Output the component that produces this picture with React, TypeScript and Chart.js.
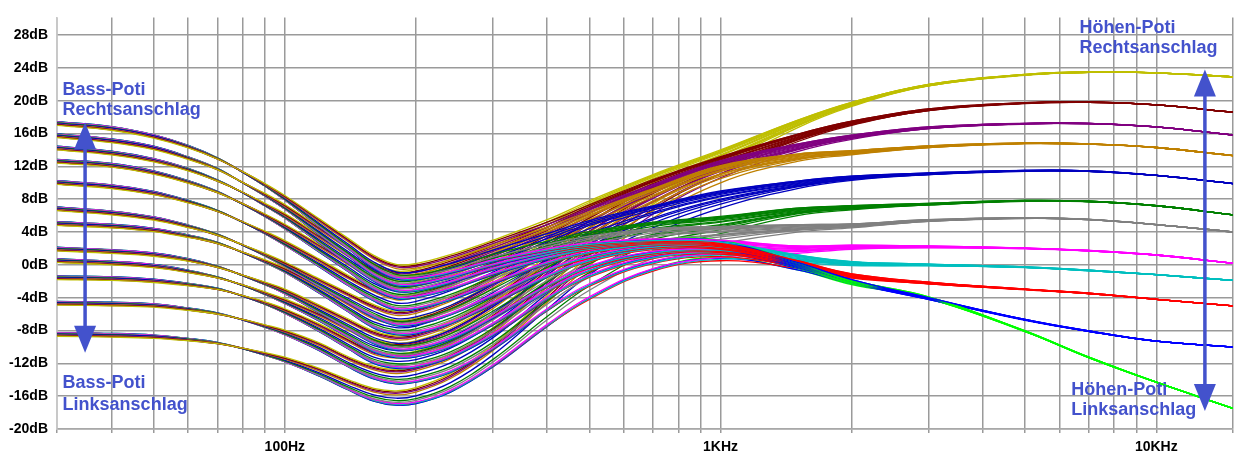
import React, { useEffect, useRef } from 'react';
import { Chart, registerables } from 'chart.js';

Chart.register(...registerables);

// Frequency points (Hz) at which the curves were read
const FREQS = [30, 40, 50, 60, 70, 80, 90, 100, 120, 140, 160, 180, 200, 240, 300, 400, 500, 700, 1000, 1500, 2000, 3000, 5000, 7000, 10000, 15000];

// Bass-pot positions (dB), from Rechtsanschlag (max) to Linksanschlag (min)
const BASS_01 = [17.4, 16.8, 15.8, 14.5, 13.0, 11.3, 9.6, 7.9, 4.7, 2.0, -0.3, -1.6, -1.7, -0.9, 0.5, 1.9, 2.8, 3.6, 3.8, 2.3, 1.2, 0.5, 0.15, 0.05, 0, 0];
const BASS_02 = [15.9, 15.3, 14.4, 13.1, 11.7, 10.0, 8.4, 6.8, 3.7, 1.1, -1.2, -2.4, -2.4, -1.5, 0.0, 1.6, 2.6, 3.5, 3.7, 2.3, 1.2, 0.5, 0.15, 0.05, 0, 0];
const BASS_03 = [14.4, 13.8, 12.9, 11.7, 10.3, 8.8, 7.2, 5.7, 2.7, 0.2, -1.9, -3.1, -3.1, -2.1, -0.5, 1.3, 2.4, 3.4, 3.6, 2.2, 1.15, 0.45, 0.15, 0.05, 0, 0];
const BASS_04 = [12.8, 12.3, 11.4, 10.2, 8.9, 7.4, 5.9, 4.4, 1.6, -0.8, -2.9, -4.0, -3.9, -2.9, -1.1, 0.9, 2.2, 3.3, 3.5, 2.2, 1.1, 0.45, 0.1, 0.05, 0, 0];
const BASS_05 = [10.2, 9.7, 8.9, 7.8, 6.6, 5.2, 3.8, 2.4, -0.2, -2.5, -4.3, -5.4, -5.3, -4.2, -2.2, 0.3, 1.8, 3.1, 3.4, 2.1, 1.1, 0.4, 0.1, 0.05, 0, 0];
const BASS_06 = [7.0, 6.5, 5.8, 4.8, 3.7, 2.4, 1.1, -0.2, -2.6, -4.6, -6.3, -7.3, -7.2, -6.0, -3.7, -0.6, 1.2, 2.8, 3.2, 2.0, 1.0, 0.4, 0.1, 0, 0, 0];
const BASS_07 = [5.2, 4.9, 4.4, 3.6, 2.7, 1.5, 0.3, -0.9, -3.4, -5.7, -7.6, -8.4, -8.3, -7.1, -4.7, -1.3, 0.8, 2.6, 3.1, 1.9, 1.0, 0.4, 0.1, 0, 0, 0];
const BASS_08 = [2.1, 1.8, 1.4, 0.7, -0.2, -1.3, -2.4, -3.5, -5.8, -7.8, -9.5, -10.3, -10.2, -9.0, -6.4, -2.5, 0.0, 2.1, 2.8, 1.8, 0.9, 0.35, 0.1, 0, 0, 0];
const BASS_09 = [0.7, 0.4, 0.0, -0.7, -1.5, -2.5, -3.6, -4.7, -6.8, -8.8, -10.5, -11.2, -11.1, -9.9, -7.2, -3.1, -0.4, 1.9, 2.7, 1.7, 0.9, 0.35, 0.1, 0, 0, 0];
const BASS_10 = [-1.4, -1.5, -1.8, -2.3, -2.9, -3.8, -4.8, -5.9, -8.1, -10.2, -11.9, -12.5, -12.4, -11.2, -8.5, -4.0, -1.1, 1.5, 2.5, 1.7, 0.85, 0.3, 0.1, 0, 0, 0];
const BASS_11 = [-4.5, -4.6, -4.8, -5.3, -5.9, -6.7, -7.6, -8.5, -10.4, -12.4, -13.8, -14.4, -14.2, -13.0, -10.2, -5.4, -2.2, 0.9, 2.2, 1.6, 0.8, 0.3, 0.1, 0, 0, 0];
const BASS_12 = [-8.3, -8.4, -8.6, -9.0, -9.5, -10.2, -11.0, -11.8, -13.5, -15.2, -16.5, -17.0, -16.8, -15.4, -12.3, -7.3, -3.8, 0.0, 1.7, 1.4, 0.7, 0.3, 0.05, 0, 0, 0];

// Treble-pot contribution (dB), from Linksanschlag (min) to Rechtsanschlag (max)
const TREBLE_01 = [0.05, 0.05, 0.05, 0.05, 0.05, 0, 0, 0, -0.05, -0.05, -0.1, -0.1, -0.1, -0.1, -0.15, -0.2, -0.3, -0.5, -0.8, -2.0, -3.1, -4.4, -8.2, -11.3, -14.3, -17.5];
const TREBLE_02 = [0.05, 0.05, 0.05, 0.05, 0.05, 0, 0, 0, -0.05, -0.05, -0.1, -0.1, -0.1, -0.1, -0.15, -0.2, -0.3, -0.55, -0.9, -2.0, -3.0, -4.5, -6.8, -8.1, -9.3, -10.0];
const TREBLE_03 = [0, 0, 0, 0, 0, 0, 0, 0, 0, 0, 0, 0, 0, 0, -0.05, -0.15, -0.4, -0.75, -1.2, -1.8, -2.3, -2.6, -3.1, -3.5, -4.2, -5.0];
const TREBLE_04 = [0, 0, 0, 0, 0, 0, 0, 0, 0, 0, 0, 0, 0, 0, 0, -0.1, -0.3, -0.65, -1.0, -1.1, -0.8, -0.4, -0.4, -0.7, -1.2, -1.9];
const TREBLE_05 = [0, 0, 0, 0, 0, 0, 0, 0, 0.05, 0.05, 0.1, 0.1, 0.1, 0.1, 0.1, 0.05, -0.1, -0.45, -0.8, 0.0, 1.2, 1.8, 1.9, 1.7, 1.2, 0.2];
const TREBLE_06 = [-0.05, -0.05, -0.05, 0, 0, 0, 0, 0.05, 0.1, 0.15, 0.2, 0.25, 0.3, 0.35, 0.45, 0.6, 0.7, 0.8, 0.9, 2.6, 3.8, 5.0, 5.6, 5.5, 4.9, 4.0];
const TREBLE_07 = [-0.1, -0.1, -0.1, -0.05, 0, 0, 0.05, 0.1, 0.2, 0.3, 0.4, 0.45, 0.5, 0.6, 0.75, 1.0, 1.25, 1.6, 2.1, 4.6, 6.0, 7.0, 7.7, 7.7, 7.2, 6.1];
const TREBLE_08 = [-0.15, -0.15, -0.1, -0.1, -0.05, 0, 0.1, 0.2, 0.35, 0.5, 0.65, 0.75, 0.85, 1.05, 1.3, 1.9, 2.6, 3.6, 5.2, 7.9, 9.6, 10.7, 11.35, 11.4, 10.9, 9.9];
const TREBLE_09 = [-0.25, -0.25, -0.2, -0.15, -0.05, 0.05, 0.15, 0.3, 0.55, 0.8, 1.0, 1.15, 1.3, 1.55, 1.85, 2.7, 3.7, 5.7, 8.3, 11.2, 12.7, 14.0, 14.7, 14.7, 14.3, 13.3];
const TREBLE_10 = [-0.3, -0.3, -0.25, -0.2, -0.1, 0.05, 0.2, 0.4, 0.7, 0.95, 1.15, 1.35, 1.5, 1.75, 2.1, 3.0, 4.1, 6.2, 8.9, 12.4, 14.6, 16.3, 17.1, 17.2, 16.8, 15.8];
const TREBLE_11 = [-0.35, -0.35, -0.3, -0.2, -0.1, 0.05, 0.25, 0.45, 0.8, 1.05, 1.3, 1.5, 1.65, 1.95, 2.3, 3.3, 4.5, 6.8, 9.4, 13.6, 16.3, 18.5, 19.6, 19.8, 19.5, 18.6];
const TREBLE_12 = [-0.4, -0.4, -0.35, -0.25, -0.1, 0.05, 0.3, 0.55, 0.9, 1.2, 1.45, 1.65, 1.85, 2.15, 2.5, 3.6, 5.0, 7.4, 10.2, 15.3, 18.6, 21.5, 23.05, 23.45, 23.4, 22.9];

const BASS_LEVELS = [BASS_01, BASS_02, BASS_03, BASS_04, BASS_05, BASS_06, BASS_07, BASS_08, BASS_09, BASS_10, BASS_11, BASS_12];
const TREBLE_LEVELS = [TREBLE_01, TREBLE_02, TREBLE_03, TREBLE_04, TREBLE_05, TREBLE_06, TREBLE_07, TREBLE_08, TREBLE_09, TREBLE_10, TREBLE_11, TREBLE_12];

// Step colours (one per treble position)
const TREBLE_COLORS = ['#00FF00', '#0000FF', '#FF0000', '#00BFBF', '#FF00FF', '#808080', '#008000', '#0000BF', '#BF8000', '#800080', '#800000', '#BFBF00'];

// Axis ticks
const X_GRID = [30, 40, 50, 60, 70, 80, 90, 100, 200, 300, 400, 500, 600, 700, 800, 900, 1000, 2000, 3000, 4000, 5000, 6000, 7000, 8000, 9000, 10000, 15000];
const X_LABEL_VALUES = [100, 1000, 10000];
const X_LABEL_TEXTS = ['100Hz', '1KHz', '10KHz'];

// Annotations (anchored in data coordinates)
const NOTE_TEXTS = ['Bass-Poti', 'Rechtsanschlag', 'Bass-Poti', 'Linksanschlag', 'Höhen-Poti', 'Rechtsanschlag', 'Höhen-Poti', 'Linksanschlag'];
const NOTE_FREQS = [30.9, 30.9, 30.9, 30.9, 6664, 6664, 6380, 6380];
const NOTE_DB = [20.66, 18.2, -15.0, -17.65, 28.28, 25.85, -15.8, -18.3];
const ARROW_FREQS = [34.8, 12930];
const ARROW_TOP_DB = [17.35, 23.8];
const ARROW_BOTTOM_DB = [-10.7, -17.8];

const NOTE_COLOR = '#4352CC';
const FONT = 'Arial, "Liberation Sans", sans-serif';

const notesPlugin = {
  id: 'potiNotes',
  afterDatasetsDraw(chart: any) {
    const { ctx } = chart;
    const xs = chart.scales.x;
    const ys = chart.scales.y;
    ctx.save();
    ctx.fillStyle = NOTE_COLOR;
    ctx.strokeStyle = NOTE_COLOR;
    for (let i = 0; i < ARROW_FREQS.length; i++) {
      const px = xs.getPixelForValue(ARROW_FREQS[i]);
      const top = ys.getPixelForValue(ARROW_TOP_DB[i]);
      const bot = ys.getPixelForValue(ARROW_BOTTOM_DB[i]);
      ctx.lineWidth = 3.5;
      ctx.beginPath();
      ctx.moveTo(px, top + 20);
      ctx.lineTo(px, bot - 20);
      ctx.stroke();
      ctx.beginPath();
      ctx.moveTo(px, top);
      ctx.lineTo(px - 11, top + 27);
      ctx.lineTo(px + 11, top + 27);
      ctx.closePath();
      ctx.fill();
      ctx.beginPath();
      ctx.moveTo(px, bot);
      ctx.lineTo(px - 11, bot - 27);
      ctx.lineTo(px + 11, bot - 27);
      ctx.closePath();
      ctx.fill();
    }
    ctx.font = `bold 18px ${FONT}`;
    ctx.textAlign = 'left';
    ctx.textBaseline = 'alphabetic';
    for (let i = 0; i < NOTE_TEXTS.length; i++) {
      ctx.fillText(NOTE_TEXTS[i], xs.getPixelForValue(NOTE_FREQS[i]), ys.getPixelForValue(NOTE_DB[i]));
    }
    ctx.restore();
  },
};

export default function App() {
  const canvasRef = useRef<HTMLCanvasElement | null>(null);

  useEffect(() => {
    if (!canvasRef.current) return;
    const datasets: any[] = [];
    // dataset 0 is painted last (on top): last sweep step first
    for (let b = 0; b < BASS_LEVELS.length; b++) {
      for (let t = TREBLE_LEVELS.length - 1; t >= 0; t--) {
        const bass = BASS_LEVELS[b];
        const treble = TREBLE_LEVELS[t];
        datasets.push({
          data: FREQS.map((f, i) => ({ x: f, y: bass[i] + treble[i] })),
          borderColor: TREBLE_COLORS[t],
          borderWidth: 1.3,
          pointRadius: 0,
          fill: false,
          tension: 0.4,
        });
      }
    }

    const chart = new Chart(canvasRef.current, {
      type: 'line',
      data: { datasets },
      options: {
        animation: false,
        responsive: false,
        devicePixelRatio: 1,
        events: [],
        layout: { padding: { top: 10, right: 3, left: 0, bottom: 0 } },
        plugins: { legend: { display: false }, tooltip: { enabled: false } },
        scales: {
          x: {
            type: 'logarithmic',
            min: 30,
            max: 15000,
            afterBuildTicks: (scale: any) => {
              scale.ticks = X_GRID.map((v) => ({ value: v }));
            },
            afterFit: (scale: any) => {
              scale.height = 25;
            },
            grid: { color: '#9a9a9a', lineWidth: 1.5, tickLength: 4, drawTicks: true },
            border: { display: true, color: '#a8a8a8', width: 1.5 },
            ticks: {
              autoSkip: false,
              maxRotation: 0,
              padding: 6,
              color: '#000',
              font: { family: FONT, size: 14, weight: 'bold' },
              callback: (value: any) => {
                const idx = X_LABEL_VALUES.indexOf(Number(value));
                return idx >= 0 ? X_LABEL_TEXTS[idx] : '';
              },
            },
          },
          y: {
            type: 'linear',
            min: -20,
            max: 30.15,
            afterFit: (scale: any) => {
              scale.width = 57;
            },
            grid: { color: '#9a9a9a', lineWidth: 1.5, drawTicks: false },
            border: { display: true, color: '#c8c8c8', width: 1.5 },
            ticks: {
              stepSize: 4,
              includeBounds: false,
              padding: 9,
              color: '#000',
              font: { family: FONT, size: 14, weight: 'bold' },
              callback: (value: any) => `${value}dB`,
            },
          },
        },
      },
      plugins: [notesPlugin],
    });
    return () => chart.destroy();
  }, []);

  return (
    <div style={{ position: 'fixed', left: 0, top: 0, width: 1239, height: 454, background: '#fff' }}>
      <canvas ref={canvasRef} width={1239} height={454} style={{ display: 'block' }} />
    </div>
  );
}
